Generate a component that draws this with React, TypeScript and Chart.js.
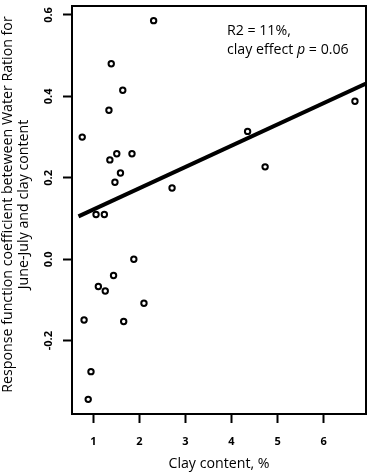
import React, { useEffect, useRef } from 'react';
import { Chart, registerables } from 'chart.js';

Chart.register(...registerables);

const clayContent = [2.31, 1.39, 1.64, 1.34, 0.76, 1.36, 1.51, 1.84, 1.59, 1.47, 1.06, 1.24, 2.71, 4.35, 6.68, 4.73, 1.88, 1.44, 1.11, 1.26, 2.10, 0.80, 1.66, 0.95, 0.89];
const responseCoef = [0.586, 0.48, 0.415, 0.366, 0.30, 0.244, 0.259, 0.259, 0.212, 0.189, 0.110, 0.110, 0.175, 0.314, 0.388, 0.227, 0.0, -0.040, -0.067, -0.078, -0.108, -0.149, -0.153, -0.276, -0.344];
const fitX = [0.679, 6.92];
const fitY = [0.1054, 0.4316];
const xTicks = [1, 2, 3, 4, 5, 6];
const yTicks = [-0.2, 0, 0.2, 0.4, 0.6];
const xTitle = 'Clay content, %';
const yTitle = ['   Response function coefficient beteween Water Ration for', '   June-July and clay content'];
const noteLine1 = 'R2 = 11%,';
const noteLine2 = ['clay effect ', 'p', ' = 0.06'];
const noteAnchor = { x: 3.9, y: 0.552 };

const FONT = 'Open Sans';
const TEXT_SIZE = 14.2;

export default function App() {
  const ref = useRef<HTMLCanvasElement | null>(null);
  useEffect(() => {
    document.body.style.margin = '0';
    const canvas = ref.current!;
    const framePlugin = {
      id: 'frame',
      afterDraw(chart: any) {
        const { ctx, chartArea: a } = chart;
        ctx.save();
        ctx.strokeStyle = '#000';
        ctx.lineWidth = 2;
        ctx.strokeRect(a.left, a.top, a.right - a.left, a.bottom - a.top);
        const xs = chart.scales.x, ys = chart.scales.y;
        const ax = xs.getPixelForValue(noteAnchor.x);
        const ay = ys.getPixelForValue(noteAnchor.y);
        ctx.fillStyle = '#000';
        ctx.textBaseline = 'alphabetic';
        ctx.textAlign = 'left';
        ctx.font = `${TEXT_SIZE}px "${FONT}"`;
        ctx.fillText(noteLine1, ax, ay);
        let cx = ax;
        noteLine2.forEach((s, i) => {
          ctx.font = i === 1 ? `italic ${TEXT_SIZE}px "${FONT}"` : `${TEXT_SIZE}px "${FONT}"`;
          ctx.fillText(s, cx, ay + 19);
          cx += ctx.measureText(s).width;
        });
        ctx.restore();
      },
    };
    const chart = new Chart(canvas, {
      type: 'scatter',
      data: {
        datasets: [
          {
            data: clayContent.map((x, i) => ({ x, y: responseCoef[i] })),
            pointRadius: 2.7,
            pointBorderWidth: 2,
            pointBackgroundColor: '#fff',
            pointBorderColor: '#000',
            showLine: false,
          },
          {
            type: 'line',
            data: fitX.map((x, i) => ({ x, y: fitY[i] })),
            borderColor: '#000',
            borderWidth: 4,
            pointRadius: 0,
            fill: false,
          },
        ],
      },
      plugins: [framePlugin],
      options: {
        responsive: false,
        animation: false,
        events: [],
        layout: { padding: { top: 2, right: 2, left: 0, bottom: 0 } },
        plugins: { legend: { display: false }, tooltip: { enabled: false } },
        scales: {
          x: {
            type: 'linear',
            min: 0.538,
            max: 6.92,
            afterBuildTicks: (s: any) => { s.ticks = xTicks.map((v) => ({ value: v })); },
            afterFit: (s: any) => { s.height = 60; s.paddingLeft = 0; s.paddingRight = 0; },
            grid: { drawOnChartArea: false, drawTicks: true, tickLength: 9, tickWidth: 2, tickColor: '#000' },
            border: { display: true, width: 2, color: '#000' },
            ticks: { color: '#000', padding: 12, font: { family: FONT, size: 11, weight: 'bold' }, callback: (v: any) => String(v) },
            title: { display: true, text: xTitle, color: '#000', font: { family: FONT, size: TEXT_SIZE, lineHeight: '16px' }, padding: { top: 0, bottom: 2 } },
          },
          y: {
            type: 'linear',
            min: -0.38,
            max: 0.622,
            afterBuildTicks: (s: any) => { s.ticks = yTicks.map((v) => ({ value: v })); },
            afterFit: (s: any) => { s.width = 72; s.paddingTop = 0; s.paddingBottom = 0; },
            grid: { drawOnChartArea: false, drawTicks: true, tickLength: 9, tickWidth: 2, tickColor: '#000' },
            border: { display: true, width: 2, color: '#000' },
            ticks: { color: '#000', padding: 5, minRotation: 90, maxRotation: 90, crossAlign: 'center', font: { family: FONT, size: 11, weight: 'bold' }, callback: (v: any) => Number(v).toFixed(1) },
            title: { display: true, text: yTitle, color: '#000', font: { family: FONT, size: TEXT_SIZE, lineHeight: '16px' }, padding: { top: 0, bottom: 0 } },
          },
        },
      },
    } as any);
    return () => chart.destroy();
  }, []);
  return (
    <div style={{ width: 372, height: 474 }}>
      <canvas ref={ref} width={372} height={474} style={{ display: 'block', width: 372, height: 474 }} />
    </div>
  );
}
